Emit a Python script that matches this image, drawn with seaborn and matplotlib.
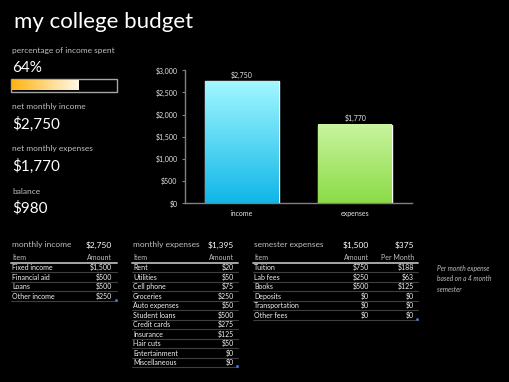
import numpy as np
import matplotlib.pyplot as plt
import seaborn as sns
from matplotlib.colors import to_rgb

# dados do gráfico
chart_categories = ['income', 'expenses']
chart_values = [2750, 1770]
y_ticks = [0, 500, 1000, 1500, 2000, 2500, 3000]

# tabelas
income_items = ['Fixed income', 'Financial aid', 'Loans', 'Other income']
income_amounts = [1500, 500, 500, 250]

expense_items = ['Rent', 'Utilities', 'Cell phone', 'Groceries', 'Auto expenses',
                 'Student loans', 'Credit cards', 'Insurance', 'Hair cuts',
                 'Entertainment', 'Miscellaneous']
expense_amounts = [20, 50, 75, 250, 50, 500, 275, 125, 50, 0, 0]

semester_items = ['Tuition', 'Lab fees', 'Books', 'Deposits', 'Transportation', 'Other fees']
semester_amounts = [750, 250, 500, 0, 0, 0]
semester_per_month = [188, 63, 125, 0, 0, 0]
months_per_semester = 4

total_income = sum(income_amounts)
total_monthly_exp = sum(expense_amounts)
total_semester = sum(semester_amounts)
semester_monthly = total_semester / months_per_semester
total_expenses = total_monthly_exp + semester_monthly
balance = total_income - total_expenses
pct_spent = total_expenses / total_income


def money(v):
    return f'${v:,.0f}'


sns.set_style('dark')
plt.rcParams['font.family'] = ['Lato', 'DejaVu Sans']

W, H = 510, 382
fig = plt.figure(figsize=(W / 100, H / 100), dpi=100, facecolor='black')

# camada de fundo em pixels
ov = fig.add_axes([0, 0, 1, 1])
ov.set_xlim(0, W)
ov.set_ylim(H, 0)
ov.axis('off')
ov.patch.set_alpha(0)

LABEL = '#BFBFBF'
TEXT = '#F2F2F2'


def txt(x, y, s, size, color=TEXT, ha='left', **kw):
    ov.text(x, y, s, fontsize=size, color=color, ha=ha, va='center', **kw)


txt(14, 22, 'my college budget', 16, color='white')

txt(12, 50, 'percentage of income spent', 6, color=LABEL)
txt(12, 68, f'{pct_spent:.0%}', 11, color='white')

# barra de progresso
bx0, bx1, by0, by1 = 11, 117, 79, 92
ov.add_patch(plt.Rectangle((bx0, by0), bx1 - bx0, by1 - by0, fill=False,
                           edgecolor='#A6A6A6', lw=1))
fill_w = (bx1 - bx0 - 2) * pct_spent
c0, c1 = np.array(to_rgb('#FFB412')), np.array(to_rgb('#FFF8E8'))
g = np.linspace(0, 1, 200)[None, :, None]
ov.imshow(c0 + (c1 - c0) * g, extent=[bx0 + 1, bx0 + 1 + fill_w, by1 - 1.5, by0 + 1.5],
          aspect='auto', zorder=2)

txt(12, 107, 'net monthly income', 6, color=LABEL)
txt(12, 124, money(total_income), 11, color='white')
txt(12, 149, 'net monthly expenses', 6, color=LABEL)
txt(12, 166, money(total_expenses), 11, color='white')
txt(12, 191, 'balance', 6, color=LABEL)
txt(12, 208, money(balance), 11, color='white')


def draw_table(x0, x1, title, totals, headers, col_x, items, cols):
    txt(x0 + 1, 245, title, 6, color=LABEL)
    for t, cx in zip(totals, col_x):
        txt(cx, 245, t, 6, color='white', ha='right')
    txt(x0 + 1, 257.5, headers[0], 5, color=LABEL)
    for h, cx in zip(headers[1:], col_x):
        txt(cx, 257.5, h, 5, color=LABEL, ha='right')
    ov.plot([x0, x1], [263, 263], color='#A6A6A6', lw=1.4)
    for i, item in enumerate(items):
        y = 267.7 + 9.5 * i
        txt(x0 + 1, y, item, 5, color=TEXT)
        for col, cx in zip(cols, col_x):
            txt(cx, y, money(col[i]), 5, color=TEXT, ha='right')
        ov.plot([x0, x1], [y + 4.7, y + 4.7], color='#3F3F3F', lw=0.8)
    ylast = 267.7 + 9.5 * (len(items) - 1) + 4.7
    ov.plot([x1 - 0.5], [ylast - 1], marker='s', ms=0.9, color='#4A7BD6')


draw_table(11, 117, 'monthly income', [money(total_income)], ['Item', 'Amount'],
           [112], income_items, [income_amounts])
draw_table(132, 238, 'monthly expenses', [money(total_monthly_exp)], ['Item', 'Amount'],
           [234], expense_items, [expense_amounts])
draw_table(253, 418, 'semester expenses', [money(total_semester), money(semester_monthly)],
           ['Item', 'Amount', 'Per Month'], [369, 414], semester_items,
           [semester_amounts, semester_per_month])

ov.text(437, 265, 'Per month expense\nbased on a 4 month\nsemester', fontsize=4.8,
        color=LABEL, style='italic', ha='left', va='top', linespacing=1.55)

# gráfico de barras
ax = fig.add_axes([185 / W, 1 - 203.3 / H, 227 / W, 133 / H])
ax.set_facecolor('none')
sns.barplot(x=chart_categories, y=chart_values, hue=chart_categories,
            palette=['#40C8F0', '#A8E870'], width=0.65, legend=False, ax=ax)

grads = {0: ('#10B6E8', '#A2F8FF'), 1: ('#8BDB46', '#C8F49E')}
for i, p in enumerate(ax.patches):
    x0, y0 = p.get_x(), p.get_y()
    x1, y1 = x0 + p.get_width(), y0 + p.get_height()
    k = 0 if (x0 + x1) / 2 < 0.5 else 1
    cb, ct = np.array(to_rgb(grads[k][0])), np.array(to_rgb(grads[k][1]))
    gg = np.linspace(0, 1, 256)[:, None, None]
    ax.imshow(cb + (ct - cb) * gg, extent=[x0, x1, y0, y1], origin='lower',
              aspect='auto', zorder=p.get_zorder() + 0.1)

for cont in ax.containers:
    ax.bar_label(cont, labels=[money(v) for v in cont.datavalues], padding=2,
                 color='#E6E6E6', fontsize=5)

ax.set_xlim(-0.5, 1.5)
ax.set_ylim(0, 3000)
ax.set_yticks(y_ticks)
ax.set_yticklabels([money(v) for v in y_ticks])
ax.set_xticks([0, 1])
ax.set_xticklabels(chart_categories)
ax.set_xticks([-0.5, 0.5, 1.5], minor=True)
ax.tick_params(axis='x', which='major', length=0, pad=5, labelsize=5, labelcolor='#E6E6E6')
ax.tick_params(axis='x', which='minor', length=2.5, color='#808080', direction='out')
ax.tick_params(axis='y', length=2.5, color='#808080', direction='out', pad=3,
               labelsize=5, labelcolor='#E6E6E6', left=True)
ax.grid(False)
for s in ['top', 'right']:
    ax.spines[s].set_visible(False)
for s in ['left', 'bottom']:
    ax.spines[s].set_visible(True)
    ax.spines[s].set_color('#808080')
    ax.spines[s].set_linewidth(1)
ax.set_xlabel('')
ax.set_ylabel('')

fig.savefig('out.png', dpi=100, facecolor='black')
